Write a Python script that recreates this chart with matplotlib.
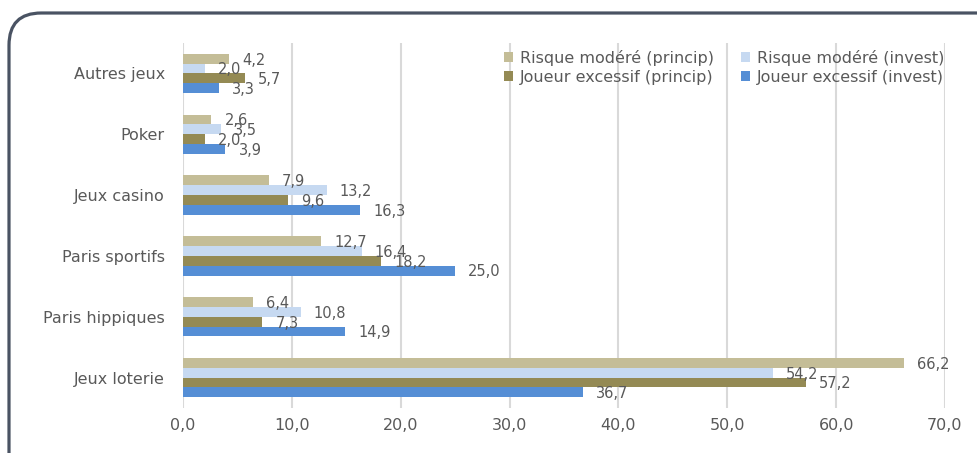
import matplotlib
matplotlib.use("Agg")
import matplotlib.pyplot as plt
from matplotlib.patches import FancyBboxPatch
import numpy as np

plt.rcParams['font.family'] = ['DejaVu Sans']

categories = ["Autres jeux", "Poker", "Jeux casino", "Paris sportifs", "Paris hippiques", "Jeux loterie"]
series_names = ["Risque modéré (princip)", "Risque modéré (invest)",
                "Joueur excessif (princip)", "Joueur excessif (invest)"]
rm_princip = [4.2, 2.6, 7.9, 12.7, 6.4, 66.2]
rm_invest = [2.0, 3.5, 13.2, 16.4, 10.8, 54.2]
je_princip = [5.7, 2.0, 9.6, 18.2, 7.3, 57.2]
je_invest = [3.3, 3.9, 16.3, 25.0, 14.9, 36.7]
xticks = [0, 10, 20, 30, 40, 50, 60, 70]

colors = ["#C4BD97", "#C6D9F1", "#948A54", "#558ED5"]
text_color = "#595959"

fig = plt.figure(figsize=(9.77, 4.53), dpi=100)
ax = fig.add_axes([183/977, 1-408/453, (945-183)/977, (408-43)/453])

y = np.arange(len(categories))
h = 0.161
data = [rm_princip, rm_invest, je_princip, je_invest]
handles = []
for i, (vals, name, c) in enumerate(zip(data, series_names, colors)):
    offs = (i - 1.5) * h
    b = ax.barh(y + offs, vals, height=h, color=c, label=name, zorder=3)
    handles.append(b)
    for yy, v in zip(y + offs, vals):
        ax.annotate(f"{v:.1f}".replace('.', ','), (v, yy), xytext=(9.5, -1),
                    textcoords='offset points', ha='left', va='center',
                    fontsize=10.5, color=text_color, zorder=4)

ax.set_ylim(len(categories) - 0.5, -0.5)
ax.set_xlim(0, 70)
ax.set_xticks(xticks)
ax.set_xticklabels([f"{t:.1f}".replace('.', ',') for t in xticks], fontsize=11.5, color=text_color)
ax.set_yticks(y)
ax.set_yticklabels(categories, fontsize=11.5, color=text_color)
ax.tick_params(axis='x', length=0, pad=7)
ax.tick_params(axis='y', length=0, pad=13)
ax.grid(axis='x', color="#D9D9D9", linewidth=1.5, zorder=0)
for s in ax.spines.values():
    s.set_visible(False)

order = [0, 2, 1, 3]
ax.legend([handles[i] for i in order], [series_names[i] for i in order],
          ncol=2, loc='upper right', bbox_to_anchor=(952/977, 1-42/453),
          bbox_transform=fig.transFigure, frameon=False, fontsize=11.5,
          labelcolor=text_color, handlelength=0.6, handleheight=0.6,
          handletextpad=0.4, columnspacing=1.7, labelspacing=0.25,
          borderpad=0.0)

x0 = 9/977
top = 1 - 13/453
frame = FancyBboxPatch((x0, -0.5), 1.2, top + 0.5,
                       boxstyle="round,pad=0,rounding_size=0.033",
                       transform=fig.transFigure, fill=False,
                       edgecolor="#4A5363", linewidth=2.3, mutation_aspect=977/453)
fig.patches.append(frame)

fig.savefig("out.png", dpi=100)
